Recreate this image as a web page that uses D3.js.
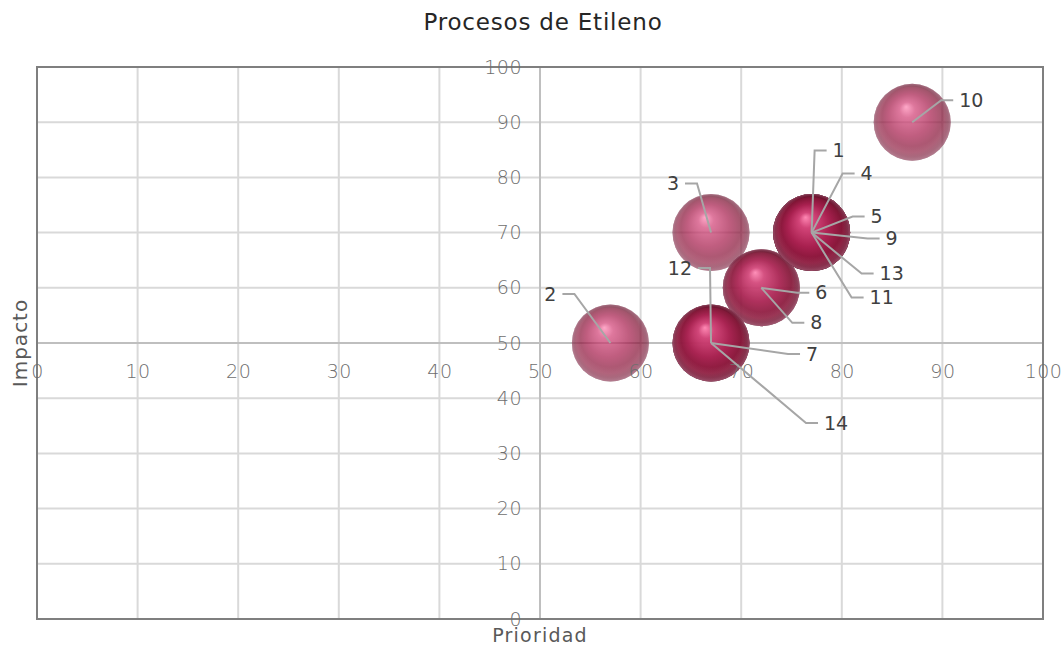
<!DOCTYPE html>
<html>
<head>
<meta charset="utf-8">
<script src="https://cdn.jsdelivr.net/npm/d3@7"></script>
<style>
  html, body { margin: 0; padding: 0; background: #fff; }
  svg { display: block; font-family: "DejaVu Sans", sans-serif; }
</style>
</head>
<body>
<svg id="chart" width="1062" height="647"></svg>
<script>
// Ethylene process items: priority (x), impact (y), bubble size
const ids       = ["1","2","3","4","5","6","7","8","9","10","11","12","13","14"];
const prioridad = [77, 57, 67, 77, 77, 72, 67, 72, 77, 87, 77, 67, 77, 67];
const impacto   = [70, 50, 70, 70, 70, 60, 50, 60, 70, 90, 70, 50, 70, 50];
const tamano    = [1, 1, 1, 1, 1, 1, 1, 1, 1, 1, 1, 1, 1, 1];
const xTicks    = [0, 10, 20, 30, 40, 50, 60, 70, 80, 90, 100];
const yTicks    = [0, 10, 20, 30, 40, 50, 60, 70, 80, 90, 100];

// Callout placement for each label: elbow offset from bubble centre and side
const callouts = {
  "1":  { dx: 3,   dy: -82, side: 1 },
  "4":  { dx: 31,  dy: -59, side: 1 },
  "5":  { dx: 41,  dy: -16, side: 1 },
  "9":  { dx: 56,  dy: 6,   side: 1 },
  "13": { dx: 50,  dy: 41,  side: 1 },
  "11": { dx: 40,  dy: 65,  side: 1 },
  "6":  { dx: 36,  dy: 5,   side: 1 },
  "8":  { dx: 31,  dy: 35,  side: 1 },
  "7":  { dx: 77,  dy: 11,  side: 1 },
  "14": { dx: 95,  dy: 80,  side: 1 },
  "12": { dx: -1,  dy: -75, side: -1 },
  "3":  { dx: -14, dy: -49, side: -1 },
  "2":  { dx: -36, dy: -49, side: -1 },
  "10": { dx: 29,  dy: -22, side: 1 }
};

const data = ids.map((id, i) => ({ id, x: prioridad[i], y: impacto[i], s: tamano[i] }));

const svg = d3.select("#chart");
const plotL = 37, plotR = 1043, plotT = 67, plotB = 619;

const x = d3.scaleLinear().domain([0, 100]).range([plotL, plotR]);
const y = d3.scaleLinear().domain([0, 100]).range([plotB, plotT]);
const r = d3.scaleSqrt().domain([0, d3.max(tamano)]).range([0, 38.5]);

// Sphere shading
const defs = svg.append("defs");
const body = defs.append("radialGradient").attr("id", "sphere")
  .attr("cx", "0.5").attr("cy", "0.5").attr("r", "0.5")
  .attr("fx", "0.42").attr("fy", "0.3");
[[0, "#ff88b4"], [0.2, "#d24478"], [0.55, "#a8204f"], [0.85, "#801535"], [1, "#3e0818"]]
  .forEach(([o, c]) => body.append("stop").attr("offset", o).attr("stop-color", c));
const rim = defs.append("radialGradient").attr("id", "rim")
  .attr("cx", "0.5").attr("cy", "0.5").attr("r", "0.5")
  .attr("fx", "0.5").attr("fy", "0.15");
[[0, "#f07fa8", 0], [0.78, "#f07fa8", 0], [0.94, "#f07fa8", 0.3], [1, "#f38fb4", 0.5]]
  .forEach(([o, c, a]) => rim.append("stop").attr("offset", o).attr("stop-color", c).attr("stop-opacity", a));

// Gridlines
const grid = svg.append("g");
grid.selectAll("line.v").data(xTicks.slice(1, -1)).join("line")
  .attr("x1", d => x(d)).attr("x2", d => x(d)).attr("y1", plotT).attr("y2", plotB)
  .attr("stroke", "#d9d9d9").attr("stroke-width", 2);
grid.selectAll("line.h").data(yTicks.slice(1, -1)).join("line")
  .attr("y1", d => y(d)).attr("y2", d => y(d)).attr("x1", plotL).attr("x2", plotR)
  .attr("stroke", "#d9d9d9").attr("stroke-width", 2);

// Axis lines crossing at (50, 50)
svg.append("line").attr("x1", plotL).attr("x2", plotR).attr("y1", y(50)).attr("y2", y(50))
  .attr("stroke", "#bfbfbf").attr("stroke-width", 2);
svg.append("line").attr("x1", x(50)).attr("x2", x(50)).attr("y1", plotT).attr("y2", plotB)
  .attr("stroke", "#bfbfbf").attr("stroke-width", 2);

// Plot frame
svg.append("rect").attr("x", plotL).attr("y", plotT).attr("width", plotR - plotL).attr("height", plotB - plotT)
  .attr("fill", "none").attr("stroke", "#7f7f7f").attr("stroke-width", 2);

// Bubbles
const bubbles = svg.append("g");
data.forEach(d => {
  const g = bubbles.append("g").attr("opacity", 0.72);
  g.append("circle").attr("cx", x(d.x)).attr("cy", y(d.y)).attr("r", r(d.s)).attr("fill", "url(#sphere)");
  g.append("circle").attr("cx", x(d.x)).attr("cy", y(d.y)).attr("r", r(d.s)).attr("fill", "url(#rim)");
});

// Axes (labels only)
const tickStyle = sel => sel.selectAll("text")
  .attr("font-size", 19).attr("fill", "#6e6e6e")
  .attr("font-family", "DejaVu Sans").attr("font-weight", 200)
  .attr("letter-spacing", 0.5);

const xAxis = d3.axisBottom(x).tickValues(xTicks).tickSize(0).tickPadding(22);
const gx = svg.append("g").attr("transform", `translate(0,${y(50)})`).call(xAxis);
gx.select(".domain").remove();
tickStyle(gx);

const yAxis = d3.axisLeft(y).tickValues(yTicks).tickSize(0).tickPadding(18);
const gy = svg.append("g").attr("transform", `translate(${x(50)},0)`).call(yAxis);
gy.select(".domain").remove();
tickStyle(gy);

// Callout leaders and labels
const lab = svg.append("g");
data.forEach(d => {
  const c = callouts[d.id];
  const cx = x(d.x), cy = y(d.y);
  const ex = cx + c.dx, ey = cy + c.dy;
  const hx = ex + c.side * 12;
  lab.append("polyline")
    .attr("points", `${cx},${cy} ${ex},${ey} ${hx},${ey}`)
    .attr("fill", "none").attr("stroke", "#a6a6a6").attr("stroke-width", 2);
  lab.append("text")
    .attr("x", hx + c.side * 6).attr("y", ey)
    .attr("dy", "0.35em")
    .attr("text-anchor", c.side > 0 ? "start" : "end")
    .attr("font-size", 19).attr("fill", "#404040")
    .text(d.id);
});

// Titles
svg.append("text").attr("x", 543).attr("y", 22).attr("dy", "0.35em")
  .attr("text-anchor", "middle").attr("font-size", 23).attr("letter-spacing", 0.8).attr("fill", "#262626")
  .text("Procesos de Etileno");
svg.append("text").attr("x", 540).attr("y", 635).attr("dy", "0.35em")
  .attr("text-anchor", "middle").attr("font-size", 19).attr("letter-spacing", 1.2).attr("fill", "#595959")
  .text("Prioridad");
svg.append("text").attr("transform", `translate(20,${y(50)}) rotate(-90)`).attr("dy", "0.35em")
  .attr("text-anchor", "middle").attr("font-size", 20).attr("letter-spacing", 1).attr("fill", "#595959")
  .text("Impacto");
</script>
</body>
</html>
